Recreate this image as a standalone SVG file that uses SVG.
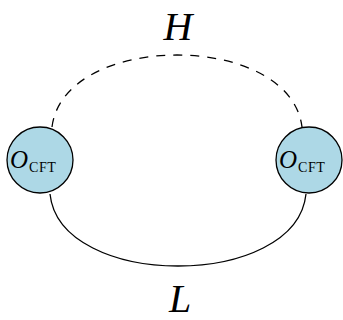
<svg xmlns="http://www.w3.org/2000/svg" width="343" height="320" viewBox="0 0 343 320">
<style>
.c{fill:#add8e6;stroke:#000;stroke-width:1.3}
.e{fill:none;stroke:#000;stroke-width:1.3}
.big{font-family:"Liberation Serif",serif;font-style:italic;font-size:40px}
.o{font-family:"Liberation Serif",serif;font-style:italic;font-size:25px}
.s{font-family:"Liberation Serif",serif;font-size:14px;letter-spacing:0.6px}
</style>
<rect width="343" height="320" fill="#fff"/>
<g id="connectors">
<path class="e" stroke-dasharray="9,8" d="M52,127 C64,31 290,31 302,127"/>
<path class="e" d="M50,194 C60,290 296,290 306,194"/>
</g>
<g id="left">
<circle class="c" cx="40" cy="160" r="33"/>
<text x="10" y="168" class="o">O</text><text x="29" y="172" class="s">CFT</text>
</g>
<g id="right">
<circle class="c" cx="309" cy="160" r="33"/>
<text x="279" y="168" class="o">O</text><text x="298" y="172" class="s">CFT</text>
</g>
<text x="178" y="40" class="big" text-anchor="middle">H</text>
<text x="180" y="312" class="big" text-anchor="middle">L</text>
</svg>
